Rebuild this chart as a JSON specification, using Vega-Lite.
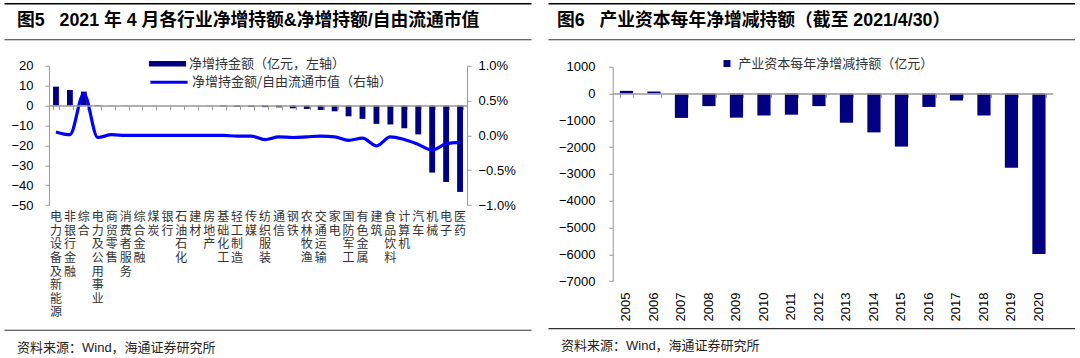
{
  "$schema": "https://vega.github.io/schema/vega-lite/v6.json",
  "background": "white",
  "padding": {"left": 4, "top": 3.25, "right": 0, "bottom": 0},
  "spacing": 17,
  "config": {
    "font": "Liberation Sans, Noto Sans CJK SC",
    "view": {"stroke": null},
    "axis": {"labelFont": "Liberation Sans", "labelFontSize": 13, "labelColor": "#000", "domainColor": "#999", "tickColor": "#999", "grid": false},
    "axisY": {"labelOverlap": false}
  },
  "resolve": {"scale": {"fill": "independent", "stroke": "independent"}, "legend": {"fill": "independent", "stroke": "independent"}},
  "hconcat": [
    {
      "spacing": 17.5,
      "resolve": {"scale": {"fill": "independent", "stroke": "independent"}, "legend": {"fill": "independent", "stroke": "independent"}},
      "vconcat": [
        {
          "width": 527, "height": 36,
          "data": {"values": [{"t": "图5\u00a0\u00a0 2021 年 4 月各行业净增持额&净增持额/自由流通市值"}]},
          "layer": [
            {"mark": {"type": "text", "align": "left", "baseline": "middle", "fontSize": 17.8, "fontWeight": "bold", "dx": 13, "color": "#000"},
             "encoding": {
               "x": {"datum": 0, "type": "quantitative", "scale": {"domain": [0, 1]}, "axis": {"orient": "top", "domain": true, "domainColor": "#000", "domainWidth": 1.6, "ticks": false, "labels": false, "title": null, "grid": false}},
               "y": {"datum": 0.5, "type": "quantitative", "scale": {"domain": [0, 1]}, "axis": null},
               "text": {"field": "t"}}},
            {"mark": {"type": "text", "text": ""},
             "encoding": {
               "x": {"datum": 0, "type": "quantitative", "axis": {"orient": "bottom", "domain": true, "domainColor": "#333", "domainWidth": 1.2, "ticks": false, "labels": false, "title": null, "grid": false}},
               "y": {"datum": 0.5, "type": "quantitative", "axis": null}}}
          ],
          "resolve": {"axis": {"x": "independent"}}
        },
        {
          "spacing": 11,
          "resolve": {"scale": {"fill": "independent", "stroke": "independent"}, "legend": {"fill": "independent", "stroke": "independent"}},
          "vconcat": [
            {
              "width": 527, "height": 139.3,
              "data": {"values": [
                {"name": "电力设备及新能源", "amt": 9.5, "ratio": 0.0005},
                {"name": "非银行金融", "amt": 7.8, "ratio": 0.0001},
                {"name": "综合", "amt": 7.0, "ratio": 0.006},
                {"name": "电力及公用事业", "amt": 0.3, "ratio": -0.0003},
                {"name": "商贸零售", "amt": 0.1, "ratio": 0.0001},
                {"name": "消费者服务", "amt": 0.1, "ratio": 0.0},
                {"name": "综合金融", "amt": 0.05, "ratio": 0.0},
                {"name": "煤炭", "amt": 0.05, "ratio": 0.0},
                {"name": "银行", "amt": 0.0, "ratio": 0.0},
                {"name": "石油石化", "amt": 0.0, "ratio": 0.0},
                {"name": "建材", "amt": -0.05, "ratio": 0.0},
                {"name": "房地产", "amt": -0.1, "ratio": 0.0},
                {"name": "基础化工", "amt": -0.4, "ratio": 0.0},
                {"name": "轻工制造", "amt": -0.6, "ratio": -0.0001},
                {"name": "传媒", "amt": -0.6, "ratio": -0.0001},
                {"name": "纺织服装", "amt": -0.8, "ratio": -0.0006},
                {"name": "通信", "amt": -0.9, "ratio": -0.0002},
                {"name": "钢铁", "amt": -1.4, "ratio": -0.0003},
                {"name": "农林牧渔", "amt": -1.7, "ratio": -0.0002},
                {"name": "交通运输", "amt": -2.2, "ratio": -0.0001},
                {"name": "家电", "amt": -2.9, "ratio": -0.0002},
                {"name": "国防军工", "amt": -5.4, "ratio": -0.0007},
                {"name": "有色金属", "amt": -6.7, "ratio": -0.0004},
                {"name": "建筑", "amt": -9.2, "ratio": -0.0015},
                {"name": "食品饮料", "amt": -9.5, "ratio": -0.0002},
                {"name": "计算机", "amt": -11.4, "ratio": -0.0006},
                {"name": "汽车", "amt": -14.5, "ratio": -0.0013},
                {"name": "机械", "amt": -33.7, "ratio": -0.0021},
                {"name": "电子", "amt": -38.4, "ratio": -0.0012},
                {"name": "医药", "amt": -43.4, "ratio": -0.001}
              ]},
              "layer": [
                {
                  "mark": {"type": "bar"},
                  "encoding": {
                    "x": {"field": "name", "type": "nominal", "sort": null, "scale": {"range": [45, 463], "paddingInner": 0.58, "paddingOuter": 0.29},
                      "axis": {"orient": "bottom", "title": null, "domain": false, "ticks": false, "labelAngle": 0, "labelExpr": "split(datum.label, '')", "labelLineHeight": 13.6, "labelBaseline": "top", "labelPadding": 6.7, "labelFontSize": 12, "labelFont": "Noto Sans CJK SC", "labelColor": "#333", "labelOverlap": false, "labelLimit": 0}},
                    "y": {"field": "amt", "type": "quantitative", "scale": {"domain": [-50, 20]},
                      "axis": {"title": null, "offset": -45, "values": [-50, -40, -30, -20, -10, 0, 10, 20], "tickSize": 4, "labelPadding": 12, "labelOverlap": false}},
                    "fill": {"datum": "净增持金额（亿元，左轴）", "type": "nominal", "scale": {"range": ["#000080"]},
                      "legend": {"orient": "none", "legendX": 157, "legendY": -8.5, "title": null, "padding": 0, "symbolType": "M-3.1,-0.47L3.1,-0.47L3.1,0.47L-3.1,0.47Z", "symbolSize": 144, "symbolStrokeWidth": 0, "labelOffset": 15, "labelFontSize": 13, "labelFont": "Noto Sans CJK SC", "labelColor": "#333", "labelLimit": 400}}
                  }
                },
                {
                  "mark": {"type": "line", "strokeWidth": 3.2, "interpolate": "monotone"},
                  "encoding": {
                    "x": {"field": "name", "type": "nominal", "sort": null,
                      "axis": {"orient": "top", "offset": -39.8, "labels": false, "title": null, "domain": true, "domainColor": "#999", "domainWidth": 1.5, "ticks": true, "tickSize": -4, "tickBand": "extent", "tickColor": "#999", "zindex": 1}},
                    "y": {"field": "ratio", "type": "quantitative", "scale": {"domain": [-0.01, 0.01]},
                      "axis": {"orient": "right", "offset": -64, "title": null, "format": ".1%", "values": [-0.01, -0.005, 0, 0.005, 0.01], "tickSize": 4, "labelPadding": 7, "labelOverlap": false}},
                    "stroke": {"datum": "净增持金额/自由流通市值（右轴）", "type": "nominal", "scale": {"range": ["#0000FF"]},
                      "legend": {"orient": "none", "legendX": 157, "legendY": 8.5, "title": null, "padding": 0, "symbolType": "M-3.1,0L3.1,0", "symbolSize": 144, "symbolStrokeWidth": 3.2, "labelOffset": 15, "labelFontSize": 13, "labelFont": "Noto Sans CJK SC", "labelColor": "#333", "labelLimit": 400}}
                  }
                }
              ],
              "resolve": {"scale": {"y": "independent"}, "axis": {"x": "independent"}}
            },
            {
              "width": 527, "height": 27,
              "data": {"values": [{"src": "资料来源：Wind，海通证券研究所"}]},
              "mark": {"type": "text", "align": "left", "baseline": "middle", "fontSize": 13, "dx": 13, "color": "#222"},
              "encoding": {
                "x": {"datum": 0, "type": "quantitative", "scale": {"domain": [0, 1]}, "axis": {"orient": "top", "domain": true, "domainColor": "#333", "domainWidth": 1.2, "ticks": false, "labels": false, "title": null, "grid": false}},
                "y": {"datum": 0.33, "type": "quantitative", "scale": {"domain": [0, 1]}, "axis": null},
                "text": {"field": "src"}
              }
            }
          ]
        }
      ]
    },
    {
      "spacing": 17.5,
      "resolve": {"scale": {"fill": "independent", "stroke": "independent"}, "legend": {"fill": "independent", "stroke": "independent"}},
      "vconcat": [
        {
          "width": 527, "height": 36,
          "data": {"values": [{"t": "图6\u00a0\u00a0 产业资本每年净增减持额（截至 2021/4/30）"}]},
          "layer": [
            {"mark": {"type": "text", "align": "left", "baseline": "middle", "fontSize": 17.8, "fontWeight": "bold", "dx": 9, "color": "#000"},
             "encoding": {
               "x": {"datum": 0, "type": "quantitative", "scale": {"domain": [0, 1]}, "axis": {"orient": "top", "domain": true, "domainColor": "#000", "domainWidth": 1.6, "ticks": false, "labels": false, "title": null, "grid": false}},
               "y": {"datum": 0.5, "type": "quantitative", "scale": {"domain": [0, 1]}, "axis": null},
               "text": {"field": "t"}}},
            {"mark": {"type": "text", "text": ""},
             "encoding": {
               "x": {"datum": 0, "type": "quantitative", "axis": {"orient": "bottom", "domain": true, "domainColor": "#333", "domainWidth": 1.2, "ticks": false, "labels": false, "title": null, "grid": false}},
               "y": {"datum": 0.5, "type": "quantitative", "axis": null}}}
          ],
          "resolve": {"axis": {"x": "independent"}}
        },
        {
          "spacing": 6.3,
          "resolve": {"scale": {"fill": "independent", "stroke": "independent"}, "legend": {"fill": "independent", "stroke": "independent"}},
          "vconcat": [
            {
              "width": 527, "height": 214.3,
              "data": {"values": [
                {"year": "2005", "value": 100},
                {"year": "2006", "value": 75},
                {"year": "2007", "value": -910},
                {"year": "2008", "value": -470},
                {"year": "2009", "value": -900},
                {"year": "2010", "value": -820},
                {"year": "2011", "value": -790},
                {"year": "2012", "value": -470},
                {"year": "2013", "value": -1090},
                {"year": "2014", "value": -1450},
                {"year": "2015", "value": -1980},
                {"year": "2016", "value": -500},
                {"year": "2017", "value": -260},
                {"year": "2018", "value": -820},
                {"year": "2019", "value": -2770},
                {"year": "2020", "value": -5990}
              ]},
              "layer": [
                {
                  "mark": {"type": "bar"},
                  "encoding": {
                    "x": {"field": "year", "type": "nominal", "sort": null, "scale": {"range": [64.7, 504.7], "paddingInner": 0.52, "paddingOuter": 0.26},
                      "axis": {"orient": "top", "offset": -26.8, "labels": false, "title": null, "domain": true, "domainColor": "#999", "domainWidth": 1.5, "ticks": true, "tickSize": -4, "tickBand": "extent", "tickColor": "#999", "zindex": 1}},
                    "y": {"field": "value", "type": "quantitative", "scale": {"domain": [-7000, 1000]},
                      "axis": {"title": null, "offset": -64.7, "format": "d", "values": [-7000, -6000, -5000, -4000, -3000, -2000, -1000, 0, 1000], "tickSize": 4, "labelPadding": 13.7, "labelOverlap": false}},
                    "fill": {"datum": "产业资本每年净增减持额（亿元）", "type": "nominal", "scale": {"range": ["#000080"]},
                      "legend": {"orient": "none", "legendX": 172.5, "legendY": -9.7, "title": null, "padding": 0, "symbolType": "square", "symbolSize": 49, "symbolStrokeWidth": 0, "labelOffset": 4.7, "labelFontSize": 13, "labelFont": "Noto Sans CJK SC", "labelColor": "#333", "labelLimit": 400}}
                  }
                },
                {
                  "mark": {"type": "text", "text": ""},
                  "encoding": {
                    "x": {"field": "year", "type": "nominal", "sort": null,
                      "axis": {"orient": "bottom", "title": null, "domain": false, "ticks": false, "labelAngle": -90, "labelPadding": 11, "labelFontSize": 13}},
                    "y": {"field": "value", "type": "quantitative",
                      "axis": {"title": null, "offset": -64.7, "format": "d", "values": [-7000, -6000, -5000, -4000, -3000, -2000, -1000, 0, 1000], "tickSize": 4, "labelPadding": 13.7, "labelOverlap": false}}
                  }
                }
              ],
              "resolve": {"axis": {"x": "independent"}}
            },
            {
              "width": 527, "height": 27,
              "data": {"values": [{"src": "资料来源：Wind，海通证券研究所"}]},
              "mark": {"type": "text", "align": "left", "baseline": "middle", "fontSize": 13, "dx": 13, "color": "#222"},
              "encoding": {
                "x": {"datum": 0, "type": "quantitative", "scale": {"domain": [0, 1]}, "axis": {"orient": "top", "domain": true, "domainColor": "#333", "domainWidth": 1.2, "ticks": false, "labels": false, "title": null, "grid": false}},
                "y": {"datum": 0.33, "type": "quantitative", "scale": {"domain": [0, 1]}, "axis": null},
                "text": {"field": "src"}
              }
            }
          ]
        }
      ]
    }
  ]
}
